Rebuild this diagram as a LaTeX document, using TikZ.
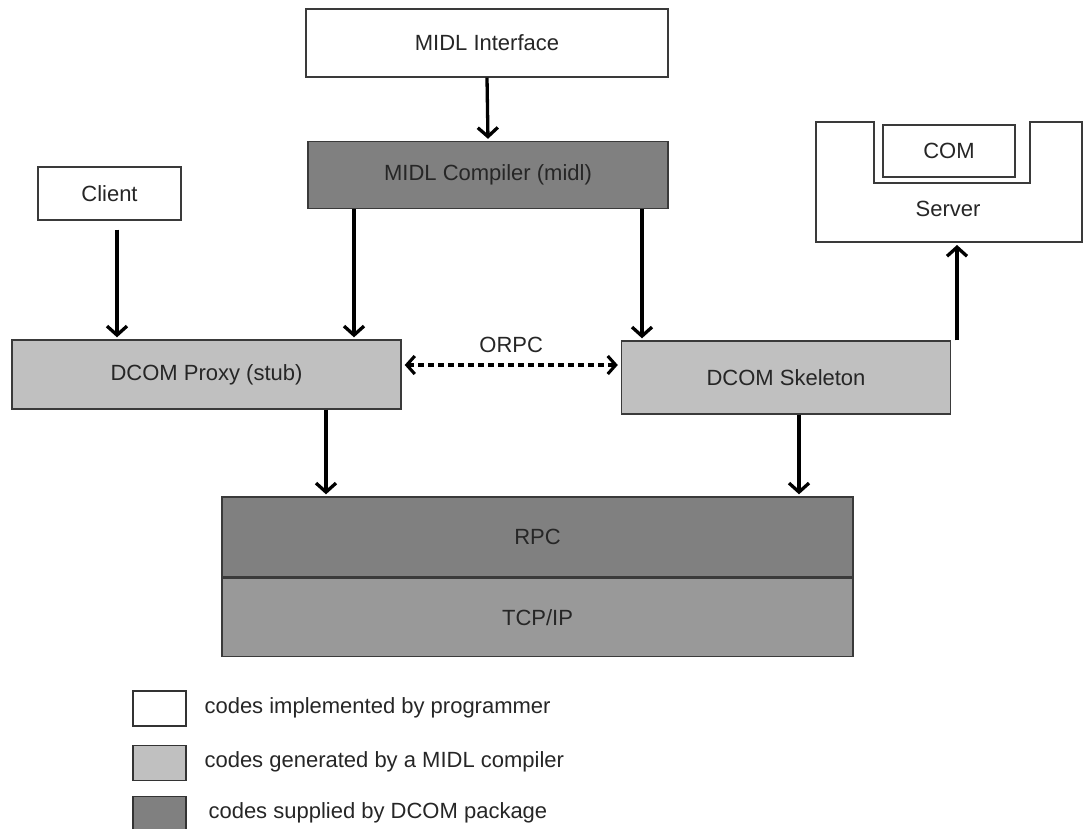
\documentclass[tikz,border=0pt]{standalone}
\usepackage{fontspec}
\setmainfont{Liberation Sans}
\usetikzlibrary{arrows.meta}
\definecolor{lightfill}{HTML}{C0C0C0}
\definecolor{darkfill}{HTML}{808080}
\definecolor{netfill}{HTML}{999999}
\definecolor{edge}{HTML}{3A3A3A}
\begin{document}
\begin{tikzpicture}[x=1pt,y=-1pt,
  lbl/.style={font=\fontsize{22}{26}\selectfont, text=black!85},
  block/.style={draw=edge, line width=1.4pt, inner sep=0pt, lbl},
  userbox/.style={block, fill=white},
  genbox/.style={block, fill=lightfill},
  pkgbox/.style={block, fill=darkfill},
  arr/.style={line width=3.3pt, -{Straight Barb[length=9pt,width=20pt,line width=3.3pt]}, shorten >=2pt},
  keybox/.style={draw=black!80, line width=1.8pt, minimum width=53pt, minimum height=35pt, inner sep=0pt}
]
\useasboundingbox (0,0) rectangle (1083,828);

% top row
\node[userbox, minimum width=362pt, minimum height=68pt] (iface) at (487,43) {MIDL Interface};
\node[pkgbox, minimum width=360pt, minimum height=67pt] (comp) at (488,175) {MIDL Compiler (midl)};
\node[userbox, minimum width=143pt, minimum height=53pt] (client) at (109.5,193.5) {Client};

% server with its COM object sitting in a notch
\draw[edge, line width=1.4pt, fill=white]
  (816,122) -- (874,122) -- (874,183) -- (1030,183) -- (1030,122) -- (1082,122)
  -- (1082,242) -- (816,242) -- cycle;
\node[userbox, minimum width=132pt, minimum height=52pt] (com) at (949,151) {COM};
\node[lbl] (server) at (948,209) {Server};
\coordinate (srvbase) at (957,243);

% middle row
\node[genbox, minimum width=389pt, minimum height=69pt] (proxy) at (206.5,374.5) {DCOM Proxy (stub)};
\node[genbox, minimum width=329pt, minimum height=73pt] (skel) at (786,377.5) {DCOM Skeleton};

% protocol stack
\node[pkgbox, minimum width=631pt, minimum height=80pt] (rpc) at (537.5,537) {RPC};
\node[block, fill=netfill, minimum width=631pt, minimum height=78pt, anchor=north] (tcp) at (rpc.south) {TCP/IP};

% x positions of the vertical connectors
\coordinate (xc) at (117,0);
\coordinate (xl) at (354,0);
\coordinate (xr) at (642,0);
\coordinate (xs) at (957,0);
\coordinate (xp) at (326,0);
\coordinate (xk) at (799,0);

\draw[arr] (iface.south) -- (comp.north);
\draw[arr] (client.south -| xc) ++(0,9) -- (proxy.north -| xc);
\draw[arr] (comp.south -| xl) -- (proxy.north -| xl);
\draw[arr] (comp.south -| xr) -- (skel.north -| xr);
\draw[arr] (skel.north -| xs) -- (srvbase);
\draw[arr] (proxy.south -| xp) -- (rpc.north -| xp);
\draw[arr] (skel.south -| xk) -- (rpc.north -| xk);

% ORPC link
\draw[line width=3.1pt, dash pattern=on 6pt off 4pt,
  {Straight Barb[length=8pt,width=18pt,line width=3.1pt]}-{Straight Barb[length=8pt,width=18pt,line width=3.1pt]},
  shorten <=3pt, shorten >=3pt]
  (proxy.east |- 0,365) -- node[lbl, above=7pt] (orpc) {ORPC} (skel.west |- 0,365);

% key
\node[keybox, fill=white] (k1) at (159.5,708.5) {};
\node[keybox, fill=lightfill] (k2) at (159.5,763) {};
\node[keybox, fill=darkfill] (k3) at (159.5,814) {};
\node[lbl, anchor=west] (t1) at (201,708) {codes implemented by programmer};
\node[lbl, anchor=west] (t2) at (201,762) {codes generated by a MIDL compiler};
\node[lbl, anchor=west] (t3) at (205,813) {codes supplied by DCOM package};
\end{tikzpicture}
\end{document}
